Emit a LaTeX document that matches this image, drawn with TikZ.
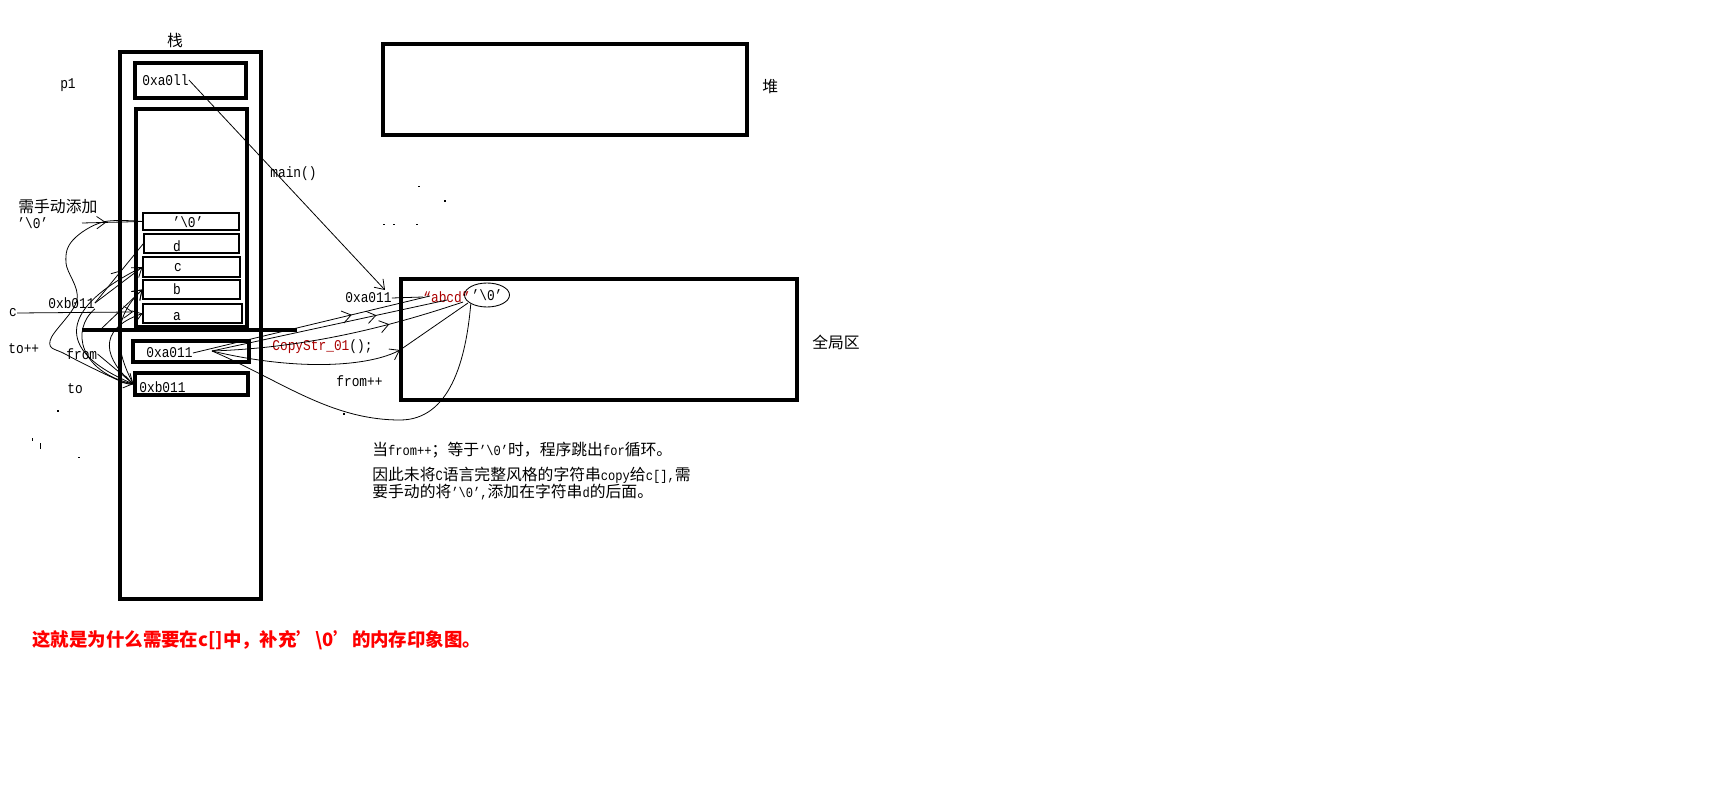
\documentclass[tikz,border=0pt]{standalone}
\usepackage{fontspec}
\setmainfont{Liberation Mono}[FakeStretch=0.86]
\newfontfamily\cjk{Noto Sans CJK SC}
\usetikzlibrary{arrows.meta,fit,shapes.geometric,decorations.markings}
\definecolor{dred}{RGB}{170,0,0}
\newcommand\zh[1]{{\fontsize{9}{10}\cjk #1}}
\tikzset{
  thickbox/.style={draw, line width=1.9pt, inner sep=0pt},
  thinbox/.style={draw, line width=0.6pt, inner sep=0pt},
  lbl/.style={inner sep=0pt, font=\fontsize{8.5}{10}\selectfont},
  cj/.style={inner sep=0pt, font=\fontsize{9}{10}\cjk},
  conn/.style={line width=0.45pt},
  arr/.style={conn, -{Straight Barb[length=5pt,width=7pt]}},
  midarr/.style={conn, decoration={markings, mark=at position #1 with {\arrow{Straight Barb[length=5pt,width=7pt]}}}, postaction={decorate}},
  midarr/.default=0.6,
  dot/.style={fill=black}
}
\begin{document}
\begin{tikzpicture}[x=0.02cm,y=-0.02cm]
\fill[white] (0,0) rectangle (1715,787);
\useasboundingbox (0,0) rectangle (1715,787);

% boxes
\node[thickbox, fit={(120,52)(261,599)}] (stack) {};
\node[thickbox, fit={(135,63)(246,98)}] (p1box) {};
\node[thickbox, fit={(136,109)(247,327)}] (frame) {};
\node[thinbox, fit={(143,213)(239,230)}] (bz) {};
\node[thinbox, fit={(144,234)(239,253)}] (bd) {};
\node[thinbox, fit={(143,257)(240,277)}] (bc) {};
\node[thinbox, fit={(143,280)(240,299)}] (bb) {};
\node[thinbox, fit={(143,304)(242,323)}] (ba) {};
\node[thickbox, fit={(133,341)(249,362)}] (fbox) {};
\node[thickbox, fit={(135,373)(248,395)}] (tbox) {};
\node[thickbox, fit={(383,44)(747,135)}] (heap) {};
\node[thickbox, fit={(401,279)(797,400)}] (global) {};
\coordinate (sepL) at (82,330);
\coordinate (sepR) at (297,330);
\draw[line width=1.9pt] (sepL) -- (sepR);

% Chinese labels
\node[cj] (tzhan) at (175,40) {栈};
\node[cj, anchor=west] (tdui) at (762,87) {堆};
\node[cj, anchor=west] (tglobal) at (812,342) {全局区};
\node[cj, anchor=west] (tman) at (18,207) {需手动添加};

% latin labels
\node[lbl] (tp1) at (68,85) {p1};
\node[lbl, anchor=west] (pv) at (142,80) {0xa0ll};
\node[lbl, anchor=west] (tmain) at (270,174) {main()};
\node[lbl, anchor=west] (tman0) at (17,223) {'\textbackslash0'};
\node[lbl, anchor=west] (txb) at (48,303) {0xb011};
\node[lbl] (tc) at (13,313) {c};
\node[lbl, anchor=west] (ttopp) at (8,349) {to++};
\node[lbl, anchor=west] (tfrom) at (66,354) {from};
\node[lbl, anchor=west] (tto) at (67,389) {to};
\node[lbl, anchor=west] (tfa) at (146,353) {0xa011};
\node[lbl, anchor=west] (ttb) at (139,387) {0xb011};
\node[lbl, anchor=west] (tga) at (345,298) {0xa011};
\node[lbl, anchor=west] (tfpp) at (336,381) {from++};
\node[lbl, anchor=west, text=dred] (tcopy) at (272,347) {CopyStr\_01\textcolor{black}{();}};
\node[lbl] (lz) at (188,222) {'\textbackslash0'};
\node[lbl] (ld) at (177,246) {d};
\node[lbl] (lc) at (178,268) {c};
\node[lbl] (lb) at (177,289) {b};
\node[lbl] (la) at (177,317) {a};
\node[lbl, anchor=west, text=dred] (tabcd) at (423,297) {“abcd”};
\node[ellipse, draw, line width=0.5pt, inner sep=0pt, minimum width=0.9cm, minimum height=0.48cm, font=\fontsize{8.5}{10}\selectfont] (ell) at (487,295) {'\textbackslash0'};

% paragraph
\node[anchor=west, inner sep=0pt, font=\fontsize{8}{10}\selectfont] (par1) at (372,450) {\zh{当}from++\zh{；等于}'\textbackslash0'\zh{时，程序跳出}for\zh{循环。}};
\node[anchor=west, inner sep=0pt, font=\fontsize{8}{10}\selectfont] (par2) at (372,475) {\zh{因此未将}C\zh{语言完整风格的字符串}copy\zh{给}c[],\zh{需}};
\node[anchor=west, inner sep=0pt, font=\fontsize{8}{10}\selectfont] (par3) at (372,492) {\zh{要手动的将}'\textbackslash0',\zh{添加在字符串}d\zh{的后面。}};

% red caption
\node[anchor=west, inner sep=0pt, text=red, font=\fontsize{10.5}{12}\cjk\bfseries] (tred) at (32,640) {这就是为什么需要在c[]中，补充’\textbackslash0’的内存印象图。};

% right-side connectors
\coordinate (gtip) at (385,290);
\draw[arr] (pv.east) -- (gtip);
\draw[conn] (tga.east) -- (tabcd.west);
\coordinate (fa2) at (212,351);
\coordinate (ea) at (430,296);
\coordinate (eb) at (447,300);
\coordinate (ec) at (463,302);
\coordinate (ed) at (400,350);
\coordinate (ee) at (468,303);
\draw[midarr=0.67] (tfa.east) -- (ea);
\draw[midarr=0.7] (fa2) -- (eb);
\draw[midarr=0.7] (fa2) .. controls (300,348) and (380,330) .. (ec);
\draw[arr] (fa2) .. controls (300,372) and (370,366) .. (ed);
\draw[conn] (ed) -- (ee);
\draw[conn] (fa2) .. controls (280,380) and (330,420) .. (400,420) .. controls (450,420) and (466,360) .. (ell.south west);

% left-side connectors
\coordinate (zs) at (82,223);
\coordinate (ca) at (133,312);
\coordinate (bs) at (100,330);
\draw[midarr=0.4] (zs) -- (bz.west);
\draw[conn] plot[smooth, tension=0.6] coordinates {(tbox.west) (120,381) (67,355) (50,341) (77,300) (66,263) (73,240) (103,222) (bz.west)};
\draw[arr] (tc.east) -- (ca);
\draw[midarr=0.55] (txb.east) -- (bd.west);
\draw[arr] (txb.east) -- (bc.west);
\draw[arr] (bs) -- (bb.west);
\draw[arr] (txb.south east) .. controls (70,330) and (80,372) .. (tbox.west);
\draw[arr] (tfrom.east) -- (tbox.west);
\draw[arr] (tbox.west) .. controls (105,360) and (95,330) .. (ba.west);
\draw[arr] (tbox.west) .. controls (115,350) and (112,318) .. (bb.west);
\draw[conn] (bc.west) .. controls (75,300) and (40,345) .. (tbox.west);

% stray marks
\fill[dot] (418,186) rectangle +(2,1.5);
\fill[dot] (444,200) rectangle +(1.5,2);
\fill[dot] (383,224) rectangle +(1.5,1.5);
\fill[dot] (393,224) rectangle +(1.5,1.5);
\fill[dot] (416,224) rectangle +(1.5,1.5);
\fill[dot] (343,413) rectangle +(1.5,1.5);
\fill[dot] (57,410) rectangle +(1.5,1.5);
\fill[dot] (32,438) rectangle +(1,3);
\fill[dot] (40,443) rectangle +(1,6);
\fill[dot] (78,457) rectangle +(2,1);
\end{tikzpicture}
\end{document}
